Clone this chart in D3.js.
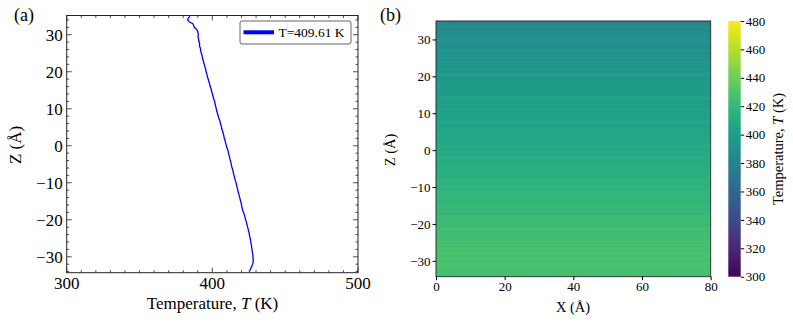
<!DOCTYPE html>
<html>
<head>
<meta charset="utf-8">
<script src="https://cdn.jsdelivr.net/npm/d3@7"></script>
<style>
  body { margin: 0; background: #fff; }
  svg { display: block; font-family: "Liberation Serif", "Times New Roman", serif; }
</style>
</head>
<body>
<div id="chart"></div>
<script>
// temperature profile along Z (Å), 0.5 Å steps from 35 down to -34
const profileZ = d3.range(35, -34.01, -0.5);
const profileT = [
    384.6, 383.5, 383.0, 384.0, 386.6, 387.2, 387.6, 389.0, 389.9, 390.2,
    390.4, 390.1, 390.5, 390.6, 391.0, 391.3, 391.1, 391.7, 391.9, 392.0,
    392.5, 392.8, 393.1, 393.3, 393.8, 394.0, 394.5, 394.7, 395.2, 395.5,
    395.7, 396.2, 396.4, 396.7, 397.2, 397.5, 397.9, 398.3, 398.5, 399.0,
    399.4, 399.6, 400.1, 400.3, 400.8, 401.0, 401.6, 401.8, 402.0, 402.4,
    402.7, 402.9, 403.4, 403.6, 404.1, 404.4, 405.0, 405.3, 405.5, 406.0,
    406.3, 406.5, 407.0, 407.3, 407.7, 408.0, 408.2, 408.7, 408.9, 409.3,
    409.6, 409.9, 410.5, 410.9, 411.1, 411.4, 411.8, 412.0, 412.4, 412.7,
    413.0, 413.2, 413.6, 414.0, 414.3, 414.5, 414.9, 415.2, 415.5, 415.8,
    416.3, 416.6, 416.8, 417.2, 417.5, 417.7, 418.2, 418.4, 418.8, 419.1,
    419.4, 419.8, 420.0, 420.3, 420.6, 420.9, 421.3, 421.9, 422.2, 422.6,
    422.8, 423.3, 423.6, 423.9, 424.2, 424.6, 424.8, 425.2, 425.4, 425.7,
    425.9, 426.3, 426.4, 426.6, 426.9, 427.0, 427.2, 427.4, 427.5, 427.8,
    427.9, 428.0, 428.1, 428.0, 427.6, 427.1, 426.6, 426.0, 425.2
];
const legendLabel = "T=409.61 K";

// panel (b) axes
const heatXTicks = [0, 20, 40, 60, 80];
const heatZTicks = [-30, -20, -10, 0, 10, 20, 30];
const colorTicks = [300, 320, 340, 360, 380, 400, 420, 440, 460, 480];

// panel (a) axes
const tempTicks = [300, 400, 500];
const zTicks = [-30, -20, -10, 0, 10, 20, 30];

const profile = profileZ.map((z, i) => ({ z: z, t: profileT[i] }));

const svg = d3.select("#chart").append("svg")
    .attr("width", 793)
    .attr("height", 322);

// ---------- panel (a) ----------
const ax = { left: 66.7, right: 358, top: 15.5, bottom: 272.7 };

const xA = d3.scaleLinear().domain([300, 500]).range([ax.left, ax.right]);
const yA = d3.scaleLinear().domain([-34.3, 35.2]).range([ax.bottom, ax.top]);

const gA = svg.append("g");

const clipA = svg.append("clipPath").attr("id", "clipA")
    .append("rect")
    .attr("x", ax.left).attr("y", ax.top)
    .attr("width", ax.right - ax.left).attr("height", ax.bottom - ax.top);

gA.append("path")
    .datum(profile)
    .attr("clip-path", "url(#clipA)")
    .attr("fill", "none")
    .attr("stroke", "#0000ff")
    .attr("stroke-width", 1.3)
    .attr("d", d3.line().x(d => xA(d.t)).y(d => yA(d.z)));

// inward ticks on all four sides
const minorX = d3.range(300, 501, 10).filter(v => !tempTicks.includes(v));
const minorZ = d3.range(-34, 35.1, 2).filter(v => !zTicks.includes(v));

function tickMarks(g, values, len, side) {
    g.selectAll(null)
        .data(values)
        .enter()
        .append("line")
        .attr("stroke", "#222")
        .attr("stroke-width", 0.8)
        .each(function (v) {
            const s = d3.select(this);
            if (side === "bottom") s.attr("x1", xA(v)).attr("x2", xA(v)).attr("y1", ax.bottom).attr("y2", ax.bottom - len);
            if (side === "top") s.attr("x1", xA(v)).attr("x2", xA(v)).attr("y1", ax.top).attr("y2", ax.top + len);
            if (side === "left") s.attr("y1", yA(v)).attr("y2", yA(v)).attr("x1", ax.left).attr("x2", ax.left + len);
            if (side === "right") s.attr("y1", yA(v)).attr("y2", yA(v)).attr("x1", ax.right).attr("x2", ax.right - len);
        });
}

["bottom", "top"].forEach(side => {
    tickMarks(gA, tempTicks, 5, side);
    tickMarks(gA, minorX, 2.5, side);
});
["left", "right"].forEach(side => {
    tickMarks(gA, zTicks, 5, side);
    tickMarks(gA, minorZ, 2.5, side);
});

gA.append("rect")
    .attr("x", ax.left).attr("y", ax.top)
    .attr("width", ax.right - ax.left).attr("height", ax.bottom - ax.top)
    .attr("fill", "none")
    .attr("stroke", "#222")
    .attr("stroke-width", 1);

gA.selectAll(".xlab")
    .data(tempTicks)
    .enter()
    .append("text")
    .attr("x", d => xA(d))
    .attr("y", 289)
    .attr("text-anchor", "middle")
    .style("font-size", "17px")
    .text(d => d);

gA.selectAll(".ylab")
    .data(zTicks)
    .enter()
    .append("text")
    .attr("x", ax.left - 4)
    .attr("y", d => yA(d))
    .attr("dy", "0.34em")
    .attr("text-anchor", "end")
    .style("font-size", "17px")
    .text(d => d3.format("d")(d));

const xTitle = gA.append("text")
    .attr("x", 212.5)
    .attr("y", 309)
    .attr("text-anchor", "middle")
    .style("font-size", "17px");
xTitle.append("tspan").text("Temperature, ");
xTitle.append("tspan").style("font-style", "italic").text("T");
xTitle.append("tspan").text(" (K)");

gA.append("text")
    .attr("transform", "translate(21,145) rotate(-90)")
    .attr("text-anchor", "middle")
    .style("font-size", "17px")
    .text("Z (Å)");

gA.append("text")
    .attr("x", 14)
    .attr("y", 21)
    .style("font-size", "18px")
    .text("(a)");

// legend
const leg = gA.append("g");
leg.append("rect")
    .attr("x", 240).attr("y", 21)
    .attr("width", 111).attr("height", 23)
    .attr("rx", 2)
    .attr("fill", "#fff")
    .attr("stroke", "#555")
    .attr("stroke-width", 0.9);
leg.append("line")
    .attr("x1", 243.5).attr("x2", 274)
    .attr("y1", 32.3).attr("y2", 32.3)
    .attr("stroke", "#0000ff")
    .attr("stroke-width", 4);
leg.append("text")
    .attr("x", 278.5)
    .attr("y", 37)
    .style("font-size", "13.5px")
    .text(legendLabel);

// ---------- panel (b) ----------
const bx = { left: 436, right: 710.7, top: 21, bottom: 276.7 };
const xB = d3.scaleLinear().domain([0, 80]).range([bx.left, bx.right]);
const yB = d3.scaleLinear().domain([-34.3, 35]).range([bx.bottom, bx.top]);
const color = d3.scaleSequential(d3.interpolateViridis).domain([300, 480]);

const gB = svg.append("g");

const clipB = svg.append("clipPath").attr("id", "clipB")
    .append("rect")
    .attr("x", bx.left).attr("y", bx.top)
    .attr("width", bx.right - bx.left).attr("height", bx.bottom - bx.top);

gB.append("g")
    .attr("clip-path", "url(#clipB)")
    .selectAll("rect")
    .data(profile)
    .enter()
    .append("rect")
    .attr("x", bx.left)
    .attr("width", bx.right - bx.left)
    .attr("y", d => yB(d.z + 0.25) - 0.3)
    .attr("height", d => yB(d.z - 0.25) - yB(d.z + 0.25) + 0.6)
    .attr("fill", d => color(d.t));

gB.append("rect")
    .attr("x", bx.left).attr("y", bx.top)
    .attr("width", bx.right - bx.left).attr("height", bx.bottom - bx.top)
    .attr("fill", "none")
    .attr("stroke", "#222")
    .attr("stroke-width", 0.9);

gB.append("g")
    .attr("transform", `translate(0, ${bx.bottom})`)
    .call(d3.axisBottom(xB).tickValues(heatXTicks).tickSize(3.5).tickPadding(2))
    .call(g => g.select(".domain").remove())
    .call(g => g.selectAll("text").style("font-size", "13px").style("font-family", "Liberation Serif").attr("fill", "#000"));

gB.append("g")
    .attr("transform", `translate(${bx.left}, 0)`)
    .call(d3.axisLeft(yB).tickValues(heatZTicks).tickSize(3.5).tickPadding(2))
    .call(g => g.select(".domain").remove())
    .call(g => g.selectAll("text").style("font-size", "13px").style("font-family", "Liberation Serif").attr("fill", "#000"));

gB.append("text")
    .attr("x", 573)
    .attr("y", 312)
    .attr("text-anchor", "middle")
    .style("font-size", "14.5px")
    .text("X (Å)");

gB.append("text")
    .attr("transform", "translate(395,150) rotate(-90)")
    .attr("text-anchor", "middle")
    .style("font-size", "14.5px")
    .text("Z (Å)");

gB.append("text")
    .attr("x", 380)
    .attr("y", 21)
    .style("font-size", "18px")
    .text("(b)");

// colorbar
const cb = { left: 728.3, right: 740.7, top: 21, bottom: 276.7 };
const yC = d3.scaleLinear().domain([300, 480]).range([cb.bottom, cb.top]);

const grad = svg.append("defs").append("linearGradient")
    .attr("id", "cbgrad")
    .attr("x1", 0).attr("y1", 1).attr("x2", 0).attr("y2", 0);
grad.selectAll("stop")
    .data(d3.range(0, 1.001, 0.05))
    .enter()
    .append("stop")
    .attr("offset", d => d)
    .attr("stop-color", d => d3.interpolateViridis(d));

gB.append("rect")
    .attr("x", cb.left).attr("y", cb.top)
    .attr("width", cb.right - cb.left).attr("height", cb.bottom - cb.top)
    .attr("fill", "url(#cbgrad)");

gB.append("g")
    .attr("transform", `translate(${cb.right}, 0)`)
    .call(d3.axisRight(yC).tickValues(colorTicks).tickSize(3.5).tickPadding(1.5))
    .call(g => g.select(".domain").remove())
    .call(g => g.selectAll("text").style("font-size", "13px").style("font-family", "Liberation Serif").attr("fill", "#000"));

const cbTitle = gB.append("text")
    .attr("transform", "translate(783,149) rotate(-90)")
    .attr("text-anchor", "middle")
    .style("font-size", "14.5px");
cbTitle.append("tspan").text("Temperature, ");
cbTitle.append("tspan").style("font-style", "italic").text("T");
cbTitle.append("tspan").text(" (K)");
</script>
</body>
</html>
